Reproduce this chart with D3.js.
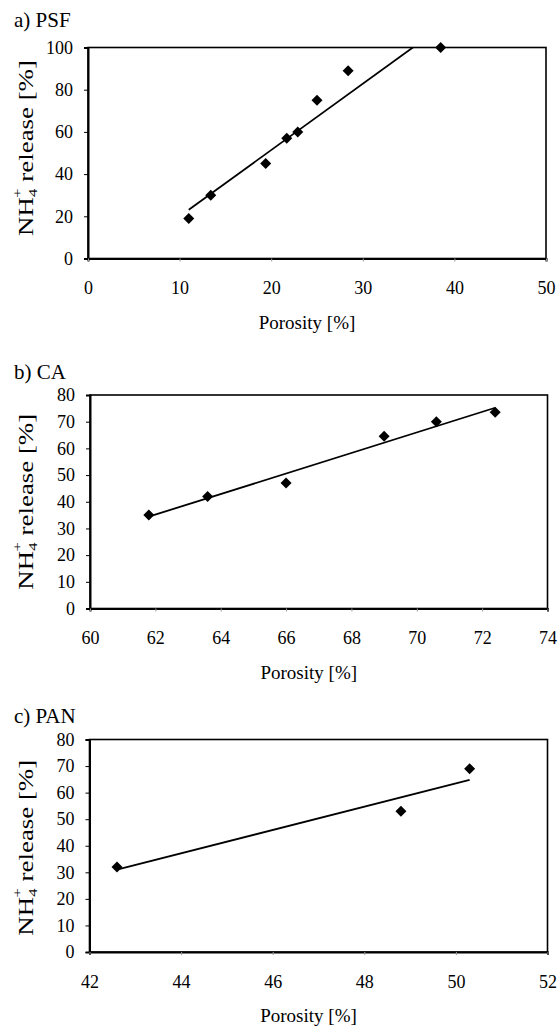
<!DOCTYPE html>
<meta charset="utf-8">
<style>
  body { margin: 0; background: #fff; }
  #chart svg { display: block; }
</style>
<body>
<div id="chart"></div>
<script src="https://d3js.org/d3.v7.min.js"></script>
<script>
  // data
  const psfPorosity = [11.0, 13.4, 19.4, 21.7, 22.9, 25.0, 28.4, 38.5];
  const psfRelease  = [19, 30, 45, 57, 60, 75, 89, 100];
  const caPorosity  = [61.8, 63.6, 66.0, 69.0, 70.6, 72.4];
  const caRelease   = [35, 42, 47, 64.5, 70, 73.5];
  const panPorosity = [42.6, 48.8, 50.3];
  const panRelease  = [32, 53, 69];

  const psfXTicks = [0, 10, 20, 30, 40, 50];
  const psfYTicks = [0, 20, 40, 60, 80, 100];
  const caXTicks  = [60, 62, 64, 66, 68, 70, 72, 74];
  const caYTicks  = [0, 10, 20, 30, 40, 50, 60, 70, 80];
  const panXTicks = [42, 44, 46, 48, 50, 52];
  const panYTicks = [0, 10, 20, 30, 40, 50, 60, 70, 80];

  const FONT = "Liberation Serif";

  const panels = [
    { label: "a) PSF", x: psfPorosity, y: psfRelease, xt: psfXTicks, yt: psfYTicks,
      box: { left: 88, right: 546, top: 47.5, bottom: 258.5 }, labelY: 27, titleShift: -5 },
    { label: "b) CA", x: caPorosity, y: caRelease, xt: caXTicks, yt: caYTicks,
      box: { left: 90, right: 547.5, top: 395, bottom: 608.5 }, labelY: 379, titleShift: 0 },
    { label: "c) PAN", x: panPorosity, y: panRelease, xt: panXTicks, yt: panYTicks,
      box: { left: 89.5, right: 547.5, top: 739.5, bottom: 952 }, labelY: 723, titleShift: 2 }
  ];

  const svg = d3.select("#chart")
    .append("svg")
    .attr("width", 560)
    .attr("height", 1032)
    .attr("font-family", FONT);

  // least squares trend line
  function fit(xs, ys) {
    const mx = d3.mean(xs), my = d3.mean(ys);
    let sxy = 0, sxx = 0;
    xs.forEach((v, i) => { sxy += (v - mx) * (ys[i] - my); sxx += (v - mx) * (v - mx); });
    const slope = sxy / sxx;
    return v => my + slope * (v - mx);
  }

  panels.forEach(function(p, k) {
    const b = p.box;
    const x = d3.scaleLinear().domain(d3.extent(p.xt)).range([b.left, b.right]);
    const y = d3.scaleLinear().domain(d3.extent(p.yt)).range([b.bottom, b.top]);
    const g = svg.append("g");

    g.append("text")
      .attr("x", 14).attr("y", p.labelY)
      .attr("font-family", FONT)
      .attr("font-size", 21)
      .text(p.label);

    g.append("clipPath").attr("id", "clip" + k)
      .append("rect")
      .attr("x", b.left).attr("y", b.top)
      .attr("width", b.right - b.left).attr("height", b.bottom - b.top);

    // frame
    g.append("rect")
      .attr("x", b.left).attr("y", b.top)
      .attr("width", b.right - b.left).attr("height", b.bottom - b.top)
      .attr("fill", "none").attr("stroke", "#000").attr("stroke-width", 1.6);

    // y axis
    const ya = g.append("g")
      .attr("transform", `translate(${b.left},0)`)
      .call(d3.axisLeft(y).tickValues(p.yt).tickSize(4).tickPadding(11).tickFormat(d3.format("d")))
      .attr("font-family", FONT).attr("font-size", 18);
    ya.select(".domain").attr("stroke-width", 2);

    // x axis
    const xa = g.append("g")
      .attr("transform", `translate(0,${b.bottom})`)
      .call(d3.axisBottom(x).tickValues(p.xt).tickSize(3).tickPadding(20).tickFormat(d3.format("d")))
      .attr("font-family", FONT).attr("font-size", 18);
    xa.select(".domain").attr("stroke-width", 2);
    xa.selectAll(".tick line").attr("stroke", "#999");

    // axis titles
    g.append("text")
      .attr("x", (b.left + b.right) / 2 - 10)
      .attr("y", b.bottom + 70)
      .attr("text-anchor", "middle")
      .attr("font-family", FONT)
      .attr("font-size", 19)
      .text("Porosity [%]");

    // y title is stretched along its length in the original
    const yt = g.append("text")
      .attr("transform", `translate(33,${(b.top + b.bottom) / 2 + p.titleShift}) rotate(-90) scale(1.28,1)`)
      .attr("text-anchor", "middle")
      .attr("font-family", FONT)
      .attr("font-size", 21);
    yt.append("tspan").text("NH");
    yt.append("tspan").attr("font-size", 13).attr("dy", 4).text("4");
    yt.append("tspan").attr("font-size", 13).attr("dx", -7).attr("dy", -15).text("+");
    yt.append("tspan").attr("dy", 11).text(" release [%]");

    // trend line
    const f = fit(p.x, p.y);
    const [x0, x1] = d3.extent(p.x);
    g.append("path")
      .attr("clip-path", `url(#clip${k})`)
      .attr("d", d3.line().x(d => x(d)).y(d => y(f(d)))([x0, x1]))
      .attr("fill", "none").attr("stroke", "#000").attr("stroke-width", 1.8);

    // markers
    g.selectAll(".pt")
      .data(p.x.map((v, i) => [v, p.y[i]]))
      .join("path")
      .attr("class", "pt")
      .attr("transform", d => `translate(${x(d[0])},${y(d[1])})`)
      .attr("d", "M0,-5.5L5.5,0L0,5.5L-5.5,0Z")
      .attr("fill", "#000");
  });
</script>
</body>
